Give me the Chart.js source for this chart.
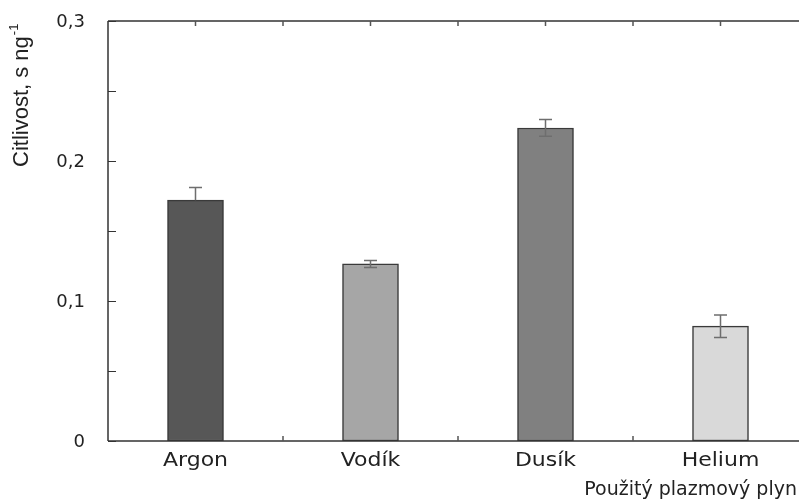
<!DOCTYPE html>
<html>
<head>
<meta charset="utf-8">
<script src="https://cdn.jsdelivr.net/npm/chart.js@4"></script>
<style>
    html, body { margin: 0; padding: 0; background: #fff; overflow: hidden; }
    #wrap { width: 799px; height: 503px; overflow: hidden; }
</style>
</head>
<body>
<div id="wrap"><canvas id="chart" width="810" height="503"></canvas></div>
<script>
// Data
const gases = ['Argon', 'Vodík', 'Dusík', 'Helium'];
const sensitivity = [0.172, 0.1265, 0.2236, 0.082];
const errPlus = [0.009, 0.0025, 0.006, 0.008];
const errMinus = [0, 0.0025, 0.006, 0.008];
const barColors = ['#575757', '#a6a6a6', '#808080', '#d9d9d9'];
const yTicks = [0, 0.1, 0.2, 0.3];
const yMinorTicks = [0.05, 0.15, 0.25];

const axisTitleY = 'Citlivost, s ng';
const axisTitleX = 'Použitý plazmový plyn';

// Frame, inward ticks, error bars and all text
const decorations = {
    id: 'decorations',
    afterDatasetsDraw(chart) {
        const { ctx, chartArea: a, scales: { x, y } } = chart;
        ctx.save();

        // error bars
        ctx.strokeStyle = '#6e6e6e';
        ctx.lineWidth = 1.5;
        sensitivity.forEach((v, i) => {
            const cx = x.getPixelForValue(i);
            const top = y.getPixelForValue(v + errPlus[i]);
            const bot = y.getPixelForValue(v - errMinus[i]);
            ctx.beginPath();
            ctx.moveTo(cx, top); ctx.lineTo(cx, bot);
            ctx.moveTo(cx - 6.5, top); ctx.lineTo(cx + 6.5, top);
            if (errMinus[i] > 0) {
                ctx.moveTo(cx - 6.5, bot); ctx.lineTo(cx + 6.5, bot);
            }
            ctx.stroke();
        });

        // frame: left, top, bottom
        ctx.strokeStyle = '#333';
        ctx.lineWidth = 1.5;
        ctx.beginPath();
        ctx.moveTo(a.left, a.top); ctx.lineTo(a.right, a.top);
        ctx.moveTo(a.left, a.top); ctx.lineTo(a.left, a.bottom);
        ctx.moveTo(a.left, a.bottom); ctx.lineTo(a.right, a.bottom);
        ctx.stroke();

        // y ticks (inward)
        ctx.lineWidth = 1;
        ctx.beginPath();
        yTicks.concat(yMinorTicks).forEach(t => {
            const py = Math.round(y.getPixelForValue(t)) + 0.5;
            ctx.moveTo(a.left, py); ctx.lineTo(a.left + 8, py);
        });
        ctx.stroke();

        // x ticks: bottom at category boundaries, top at centres and boundaries
        ctx.strokeStyle = '#555';
        ctx.lineWidth = 1.5;
        ctx.beginPath();
        const half = (x.getPixelForValue(1) - x.getPixelForValue(0)) / 2;
        for (let i = 0; i < gases.length; i++) {
            const c = x.getPixelForValue(i);
            const b = c + half;
            if (i < gases.length - 1) {
                ctx.moveTo(b, a.bottom); ctx.lineTo(b, a.bottom - 5);
            }
            ctx.moveTo(c, a.top); ctx.lineTo(c, a.top + 5);
            ctx.moveTo(b, a.top); ctx.lineTo(b, a.top + 5);
        }
        ctx.stroke();

        // y tick labels
        ctx.fillStyle = '#222';
        ctx.font = '18px "DejaVu Sans"';
        ctx.textAlign = 'right';
        ctx.textBaseline = 'middle';
        yTicks.forEach(t => {
            const label = t === 0 ? '0' : t.toFixed(1).replace('.', ',');
            ctx.fillText(label, 85, y.getPixelForValue(t) + 1);
        });

        // x tick labels, slightly widened like the reference
        ctx.font = '20px "DejaVu Sans"';
        ctx.textAlign = 'center';
        gases.forEach((g, i) => {
            ctx.save();
            ctx.translate(x.getPixelForValue(i), a.bottom + 20);
            ctx.scale(1.1, 1);
            ctx.fillText(g, 0, 0);
            ctx.restore();
        });

        // x axis title
        ctx.font = '19px "DejaVu Sans"';
        ctx.textAlign = 'right';
        ctx.fillText(axisTitleX, 797, 490);

        // y axis title, rotated, with superscript -1
        ctx.translate(28, 167);
        ctx.rotate(-Math.PI / 2);
        ctx.textAlign = 'left';
        ctx.textBaseline = 'alphabetic';
        ctx.font = '22px "Liberation Sans"';
        ctx.fillText(axisTitleY, 0, 0);
        const w = ctx.measureText(axisTitleY).width;
        ctx.font = '13px "Liberation Sans"';
        ctx.fillText('-1', w + 1, -10);

        ctx.restore();
    }
};

new Chart(document.getElementById('chart'), {
    type: 'bar',
    data: {
        labels: gases,
        datasets: [{
            data: sensitivity,
            backgroundColor: barColors,
            borderColor: '#3a3a3a',
            borderWidth: 1.5,
            borderSkipped: false,
            barThickness: 56
        }]
    },
    options: {
        responsive: false,
        animation: false,
        layout: { padding: { left: 108, top: 21, bottom: 62, right: 2 } },
        plugins: {
            legend: { display: false },
            tooltip: { enabled: false }
        },
        scales: {
            x: {
                display: false,
                offset: true
            },
            y: {
                display: false,
                min: 0,
                max: 0.3,
                ticks: { stepSize: 0.1 }
            }
        }
    },
    plugins: [decorations]
});
</script>
</body>
</html>
